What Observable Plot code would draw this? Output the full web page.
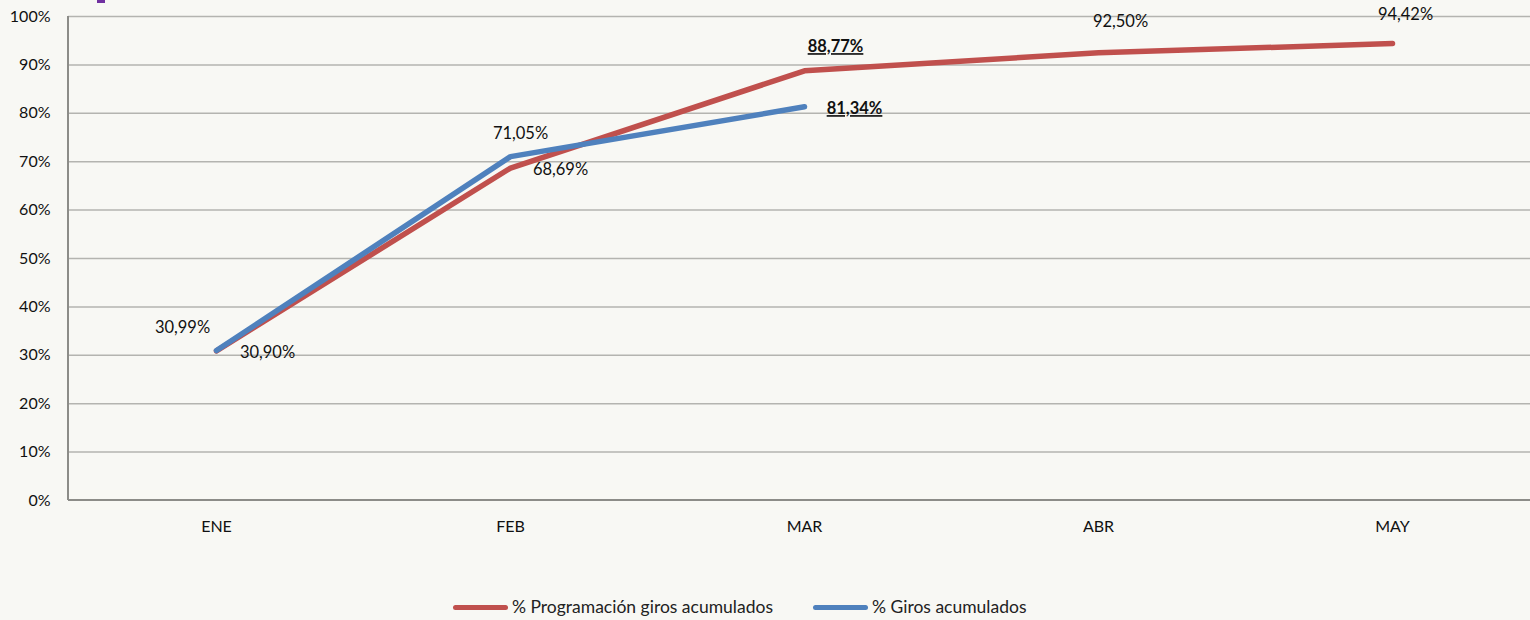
<!DOCTYPE html>
<html>
<head>
<meta charset="utf-8">
<script src="https://cdn.jsdelivr.net/npm/d3@7"></script>
<script src="https://cdn.jsdelivr.net/npm/@observablehq/plot@0.6"></script>
<style>
  html, body { margin: 0; padding: 0; background: #f8f8f4; }
  #wrap { position: relative; width: 1530px; height: 620px; overflow: hidden; background: #f8f8f4; font-family: Lato, "Open Sans", sans-serif; }
  #legend { position: absolute; left: 0; top: 596px; width: 1530px; height: 22px; }
  .item { position: absolute; top: 0; display: flex; align-items: center; height: 22px; font-size: 17.5px; line-height: 20px; color: #222; }
  .swatch { width: 55px; height: 5px; border-radius: 3px; margin-right: 4px; }
  #mark { position: absolute; left: 97px; top: 0; width: 8px; height: 3px; background: #7030a0; }
</style>
</head>
<body>
<div id="wrap">
  <div id="chart"></div>
  <div id="mark"></div>
  <div id="legend"></div>
</div>
<script>
const months = ["ENE", "FEB", "MAR", "ABR", "MAY"];
const programacion = [30.90, 68.69, 88.77, 92.50, 94.42];
const giros = [30.99, 71.05, 81.34];
const yTicks = [0, 10, 20, 30, 40, 50, 60, 70, 80, 90, 100];
const seriesNames = ["% Programación giros acumulados", "% Giros acumulados"];
const colors = ["#c0504d", "#4f81bd"];

const fmt = v => v.toFixed(2).replace(".", ",") + "%";

const progData = programacion.map((v, i) => ({month: months[i], value: v, series: seriesNames[0]}));
const girosData = giros.map((v, i) => ({month: months[i], value: v, series: seriesNames[1]}));

// label placement (layout only)
const progLabel = [
  {dx: 51, dy: 2, bold: false},
  {dx: 50, dy: 2, bold: false},
  {dx: 31, dy: -24, bold: true},
  {dx: 22, dy: -31, bold: false},
  {dx: 13, dy: -29, bold: false}
];
const girosLabel = [
  {dx: -34, dy: -23, bold: false},
  {dx: 10, dy: -23, bold: false},
  {dx: 50, dy: 2, bold: true}
];

const LABEL_SIZE = 16.5;
const labelMarks = [];
progData.forEach((d, i) => {
  const p = progLabel[i];
  labelMarks.push(Plot.text([d], {x: "month", y: "value", text: d => fmt(d.value), dx: p.dx, dy: p.dy, fontSize: LABEL_SIZE, fill: "#111", fontWeight: p.bold ? "bold" : "normal"}));
});
girosData.forEach((d, i) => {
  const p = girosLabel[i];
  labelMarks.push(Plot.text([d], {x: "month", y: "value", text: d => fmt(d.value), dx: p.dx, dy: p.dy, fontSize: LABEL_SIZE, fill: "#111", fontWeight: p.bold ? "bold" : "normal"}));
});

const chart = Plot.plot({
  width: 1530,
  height: 590,
  marginTop: 16,
  marginBottom: 90,
  marginLeft: 68,
  marginRight: 0,
  style: {background: "transparent", fontFamily: "Lato, 'Open Sans', sans-serif", fontSize: "16px", color: "#111"},
  x: {type: "point", domain: months, range: [215, 1392], padding: 0, label: null},
  y: {domain: [0, 100], label: null},
  marks: [
    Plot.ruleY(yTicks.filter(t => t > 0), {stroke: "#b4b4b0", strokeWidth: 1.5, strokeOpacity: 1}),
    Plot.axisY({ticks: yTicks, tickFormat: d => d + "%", tickSize: 0, tickPadding: 18, fontSize: 16, label: null}),
    Plot.axisX({tickSize: 0, tickPadding: 20, fontSize: 16, label: null}),
    Plot.lineY(progData, {x: "month", y: "value", stroke: colors[0], strokeWidth: 5.5, strokeLinecap: "round", strokeLinejoin: "round"}),
    Plot.lineY(girosData, {x: "month", y: "value", stroke: colors[1], strokeWidth: 5.5, strokeLinecap: "round", strokeLinejoin: "round"}),
    ...labelMarks
  ]
});

// axis lines (frame left and bottom)
const svg = d3.select(chart);
const yS = chart.scale("y");
svg.append("line").attr("x1", 68).attr("x2", 68).attr("y1", yS.apply(100)).attr("y2", yS.apply(0)).attr("stroke", "#8c8c88").attr("stroke-width", 2);
svg.append("line").attr("x1", 68).attr("x2", 1530).attr("y1", yS.apply(0)).attr("y2", yS.apply(0)).attr("stroke", "#8c8c88").attr("stroke-width", 2);

// underline bold labels
svg.selectAll("[font-weight=bold] text, text[font-weight=bold]").attr("text-decoration", "underline");

document.getElementById("chart").appendChild(chart);

const legend = document.getElementById("legend");
const lefts = [453, 813];
seriesNames.forEach((name, i) => {
  const item = document.createElement("div");
  item.className = "item";
  item.style.left = lefts[i] + "px";
  const sw = document.createElement("div");
  sw.className = "swatch";
  sw.style.background = colors[i];
  const t = document.createElement("span");
  t.textContent = name;
  item.appendChild(sw);
  item.appendChild(t);
  legend.appendChild(item);
});
</script>
</body>
</html>
